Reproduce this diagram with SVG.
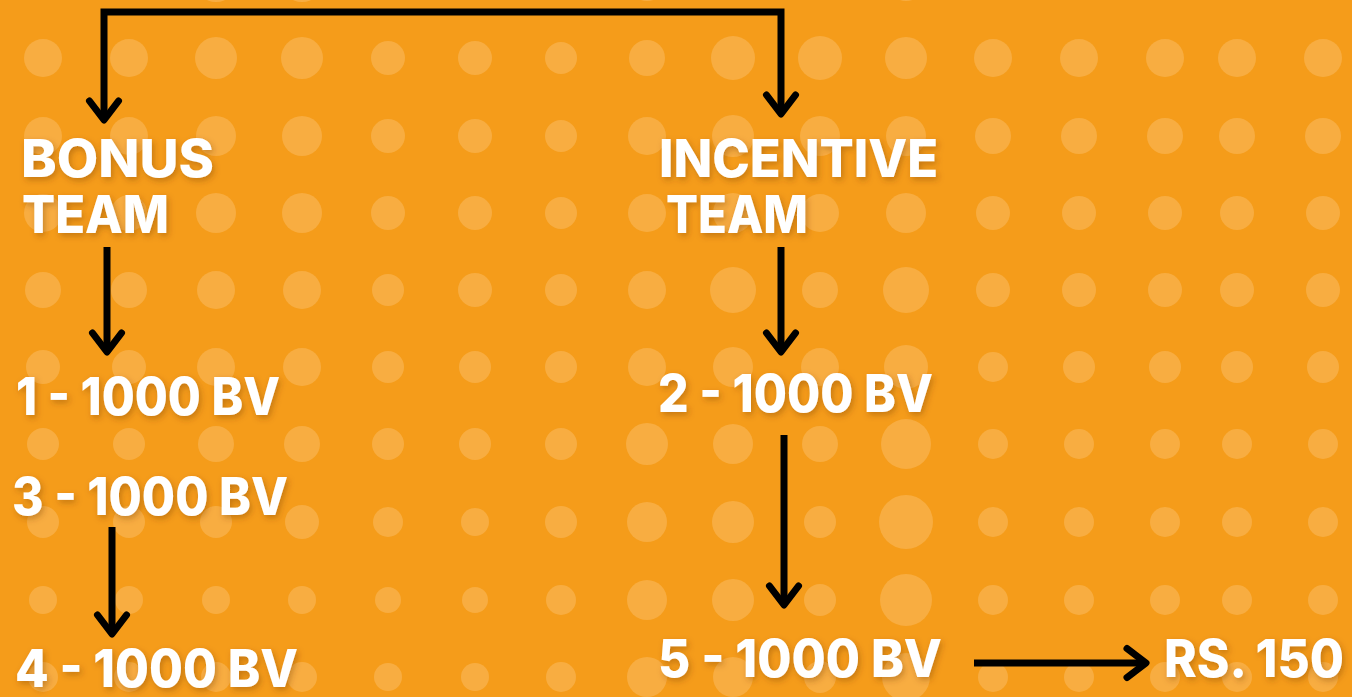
<svg xmlns="http://www.w3.org/2000/svg" width="1352" height="697" viewBox="0 0 1352 697">
<defs>
<style>
.bg{fill:#F59C1A}
.dot{fill:#F8AD41}
.lbl{font-family:"Inter","Lato","Liberation Sans",sans-serif;font-weight:800;font-size:52px;fill:#FFFFFF;filter:url(#sh)}
.conn{fill:none;stroke:#000;stroke-width:7;stroke-linecap:butt;stroke-linejoin:miter}
</style>
<filter id="sh" x="-10%" y="-30%" width="130%" height="170%">
<feDropShadow dx="2" dy="3" stdDeviation="3" flood-color="#6b3000" flood-opacity="0.35"/>
</filter>
<marker id="ah" markerUnits="userSpaceOnUse" orient="auto-start-reverse" markerWidth="60" markerHeight="60" refX="0" refY="0" viewBox="-30 -30 60 60" overflow="visible">
<path d="M -19 -14.5 L 0 0 L -19 14.5" fill="none" stroke="#000" stroke-width="7" stroke-linecap="round" stroke-linejoin="round"/>
</marker>
</defs>
<rect class="bg" x="0" y="0" width="1352" height="697"/>
<g id="dots" class="dot">
<circle cx="43" cy="-19" r="19"/><circle cx="129" cy="-19" r="19"/><circle cx="216" cy="-19" r="21"/><circle cx="302" cy="-19" r="21"/><circle cx="388" cy="-19" r="17"/><circle cx="475" cy="-19" r="17"/><circle cx="561" cy="-19" r="16"/><circle cx="647" cy="-19" r="20"/><circle cx="733" cy="-19" r="19"/><circle cx="820" cy="-19" r="19"/><circle cx="906" cy="-19" r="20"/><circle cx="993" cy="-19" r="18"/><circle cx="1079" cy="-19" r="17"/><circle cx="1165" cy="-19" r="17"/><circle cx="1237" cy="-19" r="16"/><circle cx="1323" cy="-19" r="16"/>
<circle cx="43" cy="58" r="19"/><circle cx="129" cy="58" r="19"/><circle cx="216" cy="58" r="21"/><circle cx="302" cy="58" r="21"/><circle cx="388" cy="58" r="17"/><circle cx="475" cy="58" r="17"/><circle cx="561" cy="58" r="16"/><circle cx="647" cy="58" r="18"/><circle cx="733" cy="58" r="22"/><circle cx="820" cy="58" r="22"/><circle cx="906" cy="58" r="21"/><circle cx="993" cy="58" r="19"/><circle cx="1079" cy="58" r="19"/><circle cx="1165" cy="58" r="19"/><circle cx="1237" cy="58" r="19"/><circle cx="1323" cy="58" r="19"/>
<circle cx="43" cy="136" r="19"/><circle cx="129" cy="136" r="19"/><circle cx="216" cy="136" r="20"/><circle cx="302" cy="136" r="20"/><circle cx="388" cy="136" r="17"/><circle cx="475" cy="136" r="17"/><circle cx="561" cy="136" r="16"/><circle cx="647" cy="136" r="19"/><circle cx="733" cy="136" r="21"/><circle cx="820" cy="136" r="20"/><circle cx="906" cy="136" r="20"/><circle cx="993" cy="136" r="18"/><circle cx="1079" cy="136" r="18"/><circle cx="1165" cy="136" r="18"/><circle cx="1237" cy="136" r="18"/><circle cx="1323" cy="136" r="18"/>
<circle cx="43" cy="213" r="19"/><circle cx="129" cy="213" r="18"/><circle cx="216" cy="213" r="20"/><circle cx="302" cy="213" r="20"/><circle cx="388" cy="213" r="17"/><circle cx="475" cy="213" r="17"/><circle cx="561" cy="213" r="16"/><circle cx="647" cy="213" r="19"/><circle cx="733" cy="213" r="20"/><circle cx="820" cy="213" r="19"/><circle cx="906" cy="213" r="20"/><circle cx="993" cy="213" r="17"/><circle cx="1079" cy="213" r="17"/><circle cx="1165" cy="213" r="17"/><circle cx="1237" cy="213" r="17"/><circle cx="1323" cy="213" r="17"/>
<circle cx="43" cy="290" r="18"/><circle cx="129" cy="290" r="18"/><circle cx="216" cy="290" r="19"/><circle cx="302" cy="290" r="19"/><circle cx="388" cy="290" r="16"/><circle cx="475" cy="290" r="17"/><circle cx="561" cy="290" r="16"/><circle cx="647" cy="290" r="19"/><circle cx="733" cy="290" r="23"/><circle cx="820" cy="290" r="18"/><circle cx="906" cy="290" r="23"/><circle cx="993" cy="290" r="17"/><circle cx="1079" cy="290" r="17"/><circle cx="1165" cy="290" r="17"/><circle cx="1237" cy="290" r="17"/><circle cx="1323" cy="290" r="17"/>
<circle cx="43" cy="367" r="17"/><circle cx="129" cy="367" r="17"/><circle cx="216" cy="367" r="19"/><circle cx="302" cy="367" r="19"/><circle cx="388" cy="367" r="16"/><circle cx="475" cy="367" r="16"/><circle cx="561" cy="367" r="16"/><circle cx="647" cy="367" r="19"/><circle cx="733" cy="367" r="20"/><circle cx="820" cy="367" r="19"/><circle cx="906" cy="367" r="22"/><circle cx="993" cy="367" r="15"/><circle cx="1079" cy="367" r="16"/><circle cx="1165" cy="367" r="16"/><circle cx="1237" cy="367" r="16"/><circle cx="1323" cy="367" r="16"/>
<circle cx="43" cy="444" r="16"/><circle cx="129" cy="444" r="16"/><circle cx="216" cy="444" r="18"/><circle cx="302" cy="444" r="18"/><circle cx="388" cy="444" r="16"/><circle cx="475" cy="444" r="16"/><circle cx="561" cy="444" r="16"/><circle cx="647" cy="444" r="21"/><circle cx="733" cy="444" r="20"/><circle cx="820" cy="444" r="18"/><circle cx="906" cy="444" r="25"/><circle cx="993" cy="444" r="15"/><circle cx="1079" cy="444" r="15"/><circle cx="1165" cy="444" r="15"/><circle cx="1237" cy="444" r="15"/><circle cx="1323" cy="444" r="15"/>
<circle cx="43" cy="522" r="16"/><circle cx="129" cy="522" r="16"/><circle cx="216" cy="522" r="16"/><circle cx="302" cy="522" r="17"/><circle cx="388" cy="522" r="15"/><circle cx="475" cy="522" r="14"/><circle cx="561" cy="522" r="16"/><circle cx="647" cy="522" r="20"/><circle cx="733" cy="522" r="21"/><circle cx="820" cy="522" r="16"/><circle cx="906" cy="522" r="27"/><circle cx="993" cy="522" r="15"/><circle cx="1079" cy="522" r="15"/><circle cx="1165" cy="522" r="15"/><circle cx="1237" cy="522" r="15"/><circle cx="1323" cy="522" r="15"/>
<circle cx="43" cy="600" r="14"/><circle cx="129" cy="600" r="14"/><circle cx="216" cy="600" r="14"/><circle cx="302" cy="600" r="14"/><circle cx="388" cy="600" r="13"/><circle cx="475" cy="600" r="13"/><circle cx="561" cy="600" r="15"/><circle cx="647" cy="600" r="20"/><circle cx="733" cy="600" r="21"/><circle cx="820" cy="600" r="16"/><circle cx="906" cy="600" r="26"/><circle cx="993" cy="600" r="15"/><circle cx="1079" cy="600" r="15"/><circle cx="1165" cy="600" r="15"/><circle cx="1237" cy="600" r="15"/><circle cx="1323" cy="600" r="15"/>
<circle cx="43" cy="677" r="15"/><circle cx="129" cy="677" r="15"/><circle cx="216" cy="677" r="15"/><circle cx="302" cy="677" r="15"/><circle cx="388" cy="677" r="14"/><circle cx="475" cy="677" r="14"/><circle cx="561" cy="677" r="15"/><circle cx="647" cy="677" r="20"/><circle cx="733" cy="677" r="20"/><circle cx="820" cy="677" r="16"/><circle cx="906" cy="677" r="24"/><circle cx="993" cy="677" r="15"/><circle cx="1079" cy="677" r="15"/><circle cx="1165" cy="677" r="15"/><circle cx="1237" cy="677" r="15"/><circle cx="1323" cy="677" r="15"/>
</g>
<g id="connectors">
<path class="conn" d="M 104 120 V 12 H 781 V 114" marker-start="url(#ah)" marker-end="url(#ah)"/>
<path class="conn" d="M 107 247 V 352" marker-end="url(#ah)"/>
<path class="conn" d="M 781 247 V 352" marker-end="url(#ah)"/>
<path class="conn" d="M 112 527 V 634" marker-end="url(#ah)"/>
<path class="conn" d="M 784 435 V 605" marker-end="url(#ah)"/>
<path class="conn" d="M 974 663 H 1146" marker-end="url(#ah)"/>
</g>
<g id="bonus-team"><text class="lbl" x="21" y="177" textLength="193" lengthAdjust="spacingAndGlyphs">BONUS</text><text class="lbl" x="22" y="233" textLength="147" lengthAdjust="spacingAndGlyphs">TEAM</text></g>
<g id="incentive-team"><text class="lbl" x="659" y="177" textLength="279" lengthAdjust="spacingAndGlyphs">INCENTIVE</text><text class="lbl" x="666" y="233" textLength="142" lengthAdjust="spacingAndGlyphs">TEAM</text></g>
<g id="bv1"><text class="lbl" x="16" y="415" textLength="264" lengthAdjust="spacingAndGlyphs">1 - 1000 BV</text></g>
<g id="bv3"><text class="lbl" x="12" y="515" textLength="276" lengthAdjust="spacingAndGlyphs">3 - 1000 BV</text></g>
<g id="bv4"><text class="lbl" x="15" y="687" textLength="283" lengthAdjust="spacingAndGlyphs">4 - 1000 BV</text></g>
<g id="bv2"><text class="lbl" x="658" y="412" textLength="275" lengthAdjust="spacingAndGlyphs">2 - 1000 BV</text></g>
<g id="bv5"><text class="lbl" x="658" y="677" textLength="284" lengthAdjust="spacingAndGlyphs">5 - 1000 BV</text></g>
<g id="rs150"><text class="lbl" x="1164" y="677" textLength="180" lengthAdjust="spacingAndGlyphs">RS. 150</text></g>
</svg>
